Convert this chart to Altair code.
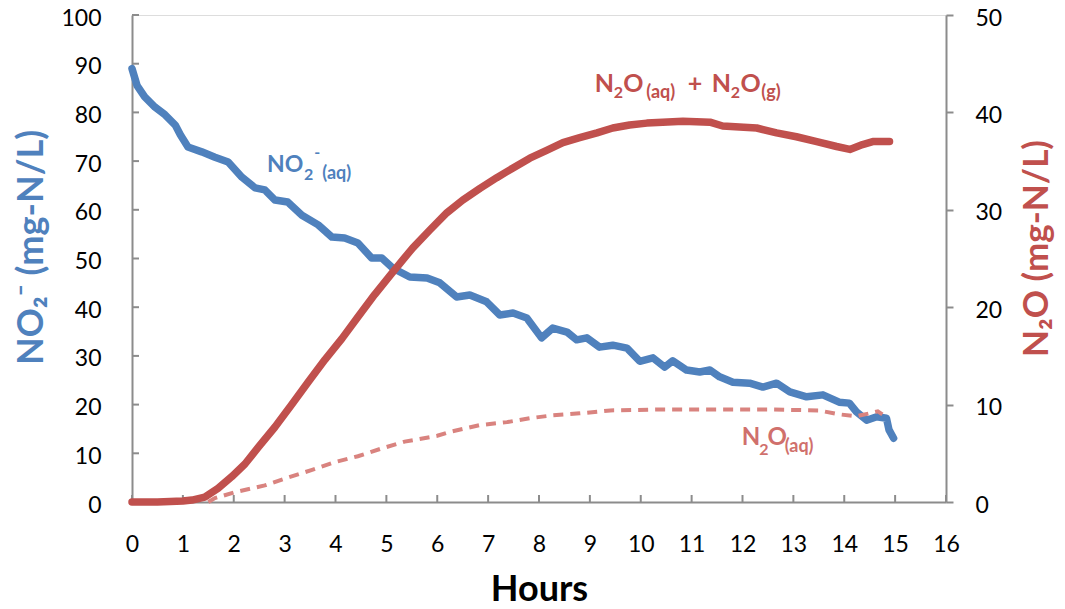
import altair as alt
import pandas as pd

# ---------------- data ----------------
no2_hours = [0.0, 0.1, 0.25, 0.45, 0.65, 0.85, 0.95, 1.1, 1.37, 1.63, 1.89, 2.16, 2.42, 2.61,
             2.81, 3.06, 3.34, 3.66, 3.93, 4.18, 4.44, 4.71, 4.91, 5.13, 5.46, 5.8, 6.05, 6.38,
             6.64, 6.97, 7.23, 7.49, 7.76, 8.05, 8.27, 8.55, 8.74, 8.94, 9.19, 9.45, 9.73, 9.98,
             10.24, 10.47, 10.63, 10.9, 11.16, 11.36, 11.55, 11.81, 12.14, 12.4, 12.67, 12.93,
             13.26, 13.58, 13.9, 14.1, 14.24, 14.44, 14.64, 14.83, 14.88, 14.97]
no2_vals = [89.0, 85.5, 83.2, 81.1, 79.5, 77.4, 75.4, 72.9, 71.9, 70.8, 69.8, 66.7, 64.5, 64.1,
            62.0, 61.6, 58.9, 56.9, 54.4, 54.2, 53.2, 50.1, 50.1, 48.0, 46.2, 46.0, 45.0, 42.1,
            42.5, 41.1, 38.4, 38.8, 37.8, 33.7, 35.7, 34.9, 33.3, 33.7, 31.8, 32.2, 31.6, 28.9,
            29.6, 27.7, 29.0, 27.1, 26.7, 27.1, 25.7, 24.6, 24.4, 23.6, 24.4, 22.6,
            21.6, 22.0, 20.5, 20.3, 18.5, 16.8, 17.5, 17.2, 14.8, 13.1]

tot_hours = [0.0, 0.5, 1.0, 1.18, 1.43, 1.69, 1.96, 2.22, 2.48, 2.81, 3.14, 3.46, 3.79, 4.13,
             4.44, 4.77, 5.11, 5.36, 5.52, 5.85, 6.19, 6.5, 6.84, 7.17, 7.49, 7.82, 8.15, 8.47,
             8.8, 9.14, 9.45, 9.78, 10.12, 10.43, 10.83, 11.36, 11.61, 11.94, 12.28, 12.67,
             13.06, 13.46, 13.85, 14.11, 14.36, 14.56, 14.89]
tot_vals = [0.0, 0.0, 0.1, 0.2, 0.5, 1.4, 2.6, 3.9, 5.6, 7.7, 10.0, 12.3, 14.6, 16.8,
            19.0, 21.3, 23.5, 25.1, 26.1, 27.9, 29.7, 31.0, 32.2, 33.3, 34.3, 35.3, 36.1, 36.9,
            37.4, 37.9, 38.4, 38.7, 38.9, 39.0, 39.1, 39.0, 38.6, 38.5, 38.4, 37.9,
            37.5, 37.0, 36.5, 36.2, 36.7, 37.0, 37.0]

aq_hours = [1.5, 1.63, 2.02, 2.61, 3.06, 3.54, 3.99, 4.44, 4.91, 5.36, 6.0, 6.25, 6.84, 7.37,
            7.82, 8.27, 8.8, 9.4, 10.4, 11.5, 12.5, 13.5, 13.9, 14.24, 14.66, 14.75]
aq_vals = [0.0, 0.4, 1.0, 1.7, 2.5, 3.3, 4.1, 4.7, 5.5, 6.2, 6.8, 7.2, 7.9, 8.2,
           8.6, 8.9, 9.1, 9.4, 9.5, 9.5, 9.5, 9.4, 9.0, 8.8, 9.3, 9.0]

x_ticks = list(range(0, 17))
left_ticks = list(range(0, 101, 10))
right_ticks = list(range(0, 51, 10))

# label pieces (text, hours, value, font size, colour)
blue_label_text = ["NO", "2", "-", "(aq)"]
blue_label_h = [2.652, 3.38, 3.58, 3.74]
blue_label_v = [67.8, 66.1, 70.6, 66.3]
blue_label_fs = [23, 16, 16, 18]

red_label_text = ["N", "2", "O", "(aq)", "+", "N", "2", "O", "(g)",
                  "N", "2", "O", "(aq)"]
red_label_h = [9.096, 9.47, 9.655, 10.11, 10.923, 11.395, 11.77, 11.96, 12.37,
               11.984, 12.33, 12.49, 12.83]
red_label_v = [42.1, 41.5, 42.1, 41.5, 42.1, 42.1, 41.5, 42.1, 41.5,
               5.85, 4.8, 5.85, 5.1]
red_label_fs = [25, 16, 25, 18, 25, 25, 16, 25, 18,
                24, 16, 24, 18]
red_label_c = ["#C0504D"] * 9 + ["#D0706C"] * 4

BLUE = "#4F81BD"
RED = "#C0504D"
RED_LIGHT = "#D9837F"
GRID = "#8C8C8C"
FONT = "Lato"

no2_df = pd.DataFrame({"h": no2_hours, "v": no2_vals})
tot_df = pd.DataFrame({"h": tot_hours, "v": tot_vals})
aq_df = pd.DataFrame({"h": aq_hours, "v": aq_vals})
xt_df = pd.DataFrame({"h": x_ticks})
lt_df = pd.DataFrame({"v": left_ticks})
blab_df = pd.DataFrame({"t": blue_label_text, "h": blue_label_h, "v": blue_label_v,
                        "fs": blue_label_fs})
rlab_df = pd.DataFrame({"t": red_label_text, "h": red_label_h, "v": red_label_v,
                        "fs": red_label_fs, "c": red_label_c})

X = alt.X("h:Q",
          scale=alt.Scale(domain=[0, 16], nice=False, zero=False),
          axis=alt.Axis(values=x_ticks, title="Hours", titleFont=FONT, titleFontSize=36,
                        titleFontWeight="bold", titleColor="black", titleY=98,
                        titleBaseline="alphabetic",
                        labelFont=FONT, labelFontSize=23, labelColor="black",
                        labelPadding=31, labelFlush=False, labelOverlap=False,
                        ticks=False, domainColor=GRID, domainWidth=2, grid=False))

YL = alt.Y("v:Q",
           scale=alt.Scale(domain=[0, 100], nice=False),
           axis=alt.Axis(values=left_ticks, title="NO₂⁻ (mg-N/L)", titleFont=FONT,
                         titleFontSize=36, titleFontWeight="bold", titleColor=BLUE,
                         titleX=-90, titleY=232, titleBaseline="alphabetic", titleAngle=270,
                         labelFont=FONT, labelFontSize=23, labelColor="black",
                         labelPadding=31, labelFlush=False, labelOverlap=False,
                         labelOffset=3,
                         ticks=False, domainColor=GRID, domainWidth=2, grid=False))

YR = alt.Y("v:Q",
           scale=alt.Scale(domain=[0, 50], nice=False),
           axis=alt.Axis(values=right_ticks, orient="right", title="N₂O   (mg-N/L)",
                         titleFont=FONT, titleFontSize=35, titleFontWeight="bold",
                         titleColor=RED, titleX=101, titleY=233, titleBaseline="alphabetic",
                         titleAngle=270,
                         labelFont=FONT, labelFontSize=23, labelColor="black",
                         labelPadding=22, labelFlush=False, labelOverlap=False,
                         labelOffset=3,
                         tickSize=7, tickColor=GRID, tickWidth=2,
                         domainColor=GRID, domainWidth=2, grid=False))

xtick_layer = alt.Chart(xt_df).mark_rule(color=GRID, strokeWidth=2).encode(
    x=X, y=alt.value(487), y2=alt.value(480))
ltick_layer = alt.Chart(lt_df).mark_rule(color=GRID, strokeWidth=2).encode(
    y=YL, x=alt.value(0), x2=alt.value(7))

no2_line = alt.Chart(no2_df).mark_line(color=BLUE, strokeWidth=7.5, strokeJoin="round",
                                       strokeCap="round").encode(x=X, y=YL)
blue_text = alt.Chart(blab_df).mark_text(align="left", baseline="alphabetic", font=FONT,
                                         fontWeight="bold", color=BLUE).encode(
    x=X, y=YL, text="t:N", size=alt.Size("fs:Q", scale=None, legend=None))

left = alt.layer(xtick_layer, ltick_layer, no2_line, blue_text)

aq_line = alt.Chart(aq_df).mark_line(color=RED_LIGHT, strokeWidth=4,
                                     strokeDash=[10, 7]).encode(x=X, y=YR)
tot_line = alt.Chart(tot_df).mark_line(color=RED, strokeWidth=7.5, strokeJoin="round",
                                       strokeCap="round").encode(x=X, y=YR)
red_text = alt.Chart(rlab_df).mark_text(align="left", baseline="alphabetic", font=FONT,
                                        fontWeight="bold").encode(
    x=X, y=YR, text="t:N", size=alt.Size("fs:Q", scale=None, legend=None),
    color=alt.Color("c:N", scale=None, legend=None))

right = alt.layer(aq_line, tot_line, red_text)

chart = alt.layer(left, right).resolve_scale(y="independent").properties(
    width=814, height=487,
    padding={"left": 124, "top": 7, "right": 111, "bottom": 99},
    autosize=alt.AutoSizeParams(type="none"),
).configure_view(stroke="#6E6E6E", strokeWidth=2).configure(background="white")

chart.save("out.html", embed_options={"renderer": "svg", "actions": False})
